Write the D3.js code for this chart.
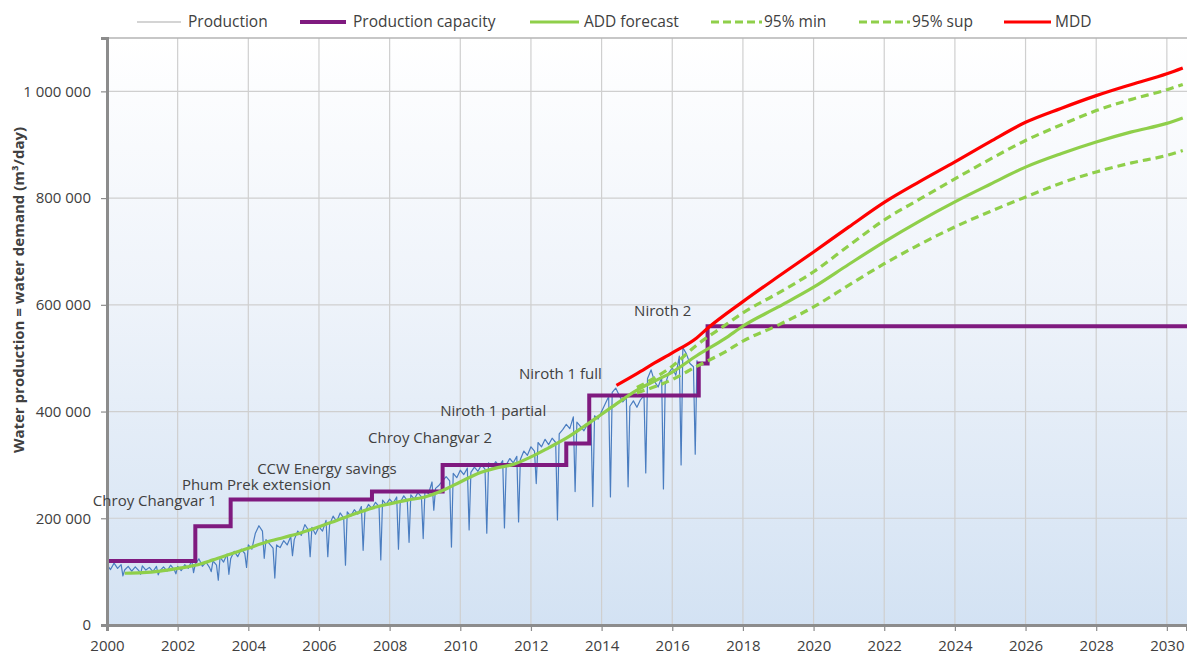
<!DOCTYPE html>
<html>
<head>
<meta charset="utf-8">
<script src="https://cdn.jsdelivr.net/npm/d3@7"></script>
<style>
  body { margin: 0; background: #ffffff; }
  svg text { font-family: "Open Sans", "Noto Sans", sans-serif; fill: #404040; }
</style>
</head>
<body>
<svg id="chart" width="1187" height="657"></svg>
<script>
// ---------- Data (years as decimal dates, values in m3/day) ----------

// Daily production, sampled along the record
const production = [
  [2000.0,112000],[2000.1,104000],[2000.2,116000],[2000.3,106000],[2000.4,113000],[2000.5,103000],
  [2000.6,110000],[2000.7,101000],[2000.8,109000],[2000.9,102000],[2001.0,111000],[2001.1,103000],
  [2001.2,108000],[2001.3,100000],[2001.4,110000],[2001.5,102000],[2001.6,109000],[2001.7,101000],
  [2001.8,112000],[2001.9,104000],[2002.0,110000],[2002.1,102000],[2002.2,113000],[2002.3,106000],
  [2002.4,121000],[2002.5,114000],[2002.6,124000],[2002.7,110000],[2002.8,118000],[2002.9,108000],
  [2003.0,120000],[2003.1,112000],[2003.2,127000],[2003.3,118000],[2003.4,133000],[2003.5,124000],
  [2003.6,138000],[2003.7,128000],[2003.8,142000],[2003.9,134000],[2004.0,150000],[2004.1,142000],
  [2004.2,172000],[2004.3,186000],[2004.4,176000],[2004.5,160000],[2004.6,152000],[2004.7,144000],
  [2004.8,150000],[2004.9,145000],[2005.0,158000],[2005.1,150000],[2005.2,166000],[2005.3,160000],
  [2005.4,176000],[2005.5,168000],[2005.6,188000],[2005.7,178000],[2005.8,183000],[2005.9,170000],
  [2006.0,184000],[2006.1,176000],[2006.2,196000],[2006.3,188000],[2006.4,204000],[2006.5,194000],
  [2006.6,210000],[2006.7,200000],[2006.8,212000],[2006.9,204000],[2007.0,216000],[2007.1,208000],
  [2007.2,222000],[2007.3,212000],[2007.4,226000],[2007.5,218000],[2007.6,230000],[2007.7,222000],
  [2007.8,234000],[2007.9,226000],[2008.0,236000],[2008.1,228000],[2008.2,240000],[2008.3,230000],
  [2008.4,242000],[2008.5,233000],[2008.6,244000],[2008.7,236000],[2008.8,248000],[2008.9,240000],
  [2009.0,252000],[2009.1,246000],[2009.2,268000],[2009.3,256000],[2009.4,262000],[2009.5,270000],
  [2009.6,278000],[2009.7,270000],[2009.8,284000],[2009.9,276000],[2010.0,290000],[2010.1,282000],
  [2010.2,294000],[2010.3,286000],[2010.4,296000],[2010.5,288000],[2010.6,300000],[2010.7,292000],
  [2010.8,304000],[2010.9,296000],[2011.0,306000],[2011.1,298000],[2011.2,308000],[2011.3,300000],
  [2011.4,312000],[2011.5,304000],[2011.6,316000],[2011.7,310000],[2011.8,326000],[2011.9,318000],
  [2012.0,334000],[2012.1,326000],[2012.2,342000],[2012.3,334000],[2012.4,348000],[2012.5,338000],
  [2012.6,350000],[2012.7,342000],[2012.8,358000],[2012.9,366000],[2013.0,376000],[2013.1,368000],
  [2013.2,390000],[2013.3,380000],[2013.4,372000],[2013.5,364000],[2013.6,376000],[2013.7,384000],
  [2013.8,392000],[2013.9,386000],[2014.0,400000],[2014.1,414000],[2014.2,428000],[2014.3,436000],
  [2014.4,444000],[2014.5,430000],[2014.6,418000],[2014.7,426000],[2014.8,410000],[2014.9,420000],
  [2015.0,408000],[2015.1,422000],[2015.2,430000],[2015.3,462000],[2015.4,478000],[2015.5,456000],
  [2015.6,446000],[2015.7,464000],[2015.8,450000],[2015.9,472000],[2016.0,482000],[2016.1,468000],
  [2016.2,504000],[2016.3,520000],[2016.4,508000],[2016.5,490000],[2016.6,484000],[2016.7,496000]
];

// Short outages: single-day drops in production
const productionDips = [
  [2000.45,92000],[2000.95,95000],[2001.45,94000],[2001.95,96000],[2002.45,98000],[2002.95,100000],
  [2003.15,84000],[2003.45,95000],[2003.95,108000],[2004.45,125000],[2004.75,88000],[2005.25,130000],
  [2005.75,128000],[2006.25,128000],[2006.75,112000],[2007.25,140000],[2007.75,122000],[2008.25,142000],
  [2008.55,155000],[2008.95,162000],[2009.25,215000],[2009.75,146000],[2010.25,178000],[2010.75,172000],
  [2011.25,182000],[2011.65,193000],[2012.15,265000],[2012.75,197000],[2013.25,250000],[2013.75,222000],
  [2014.25,240000],[2014.75,259000],[2015.25,285000],[2015.75,255000],[2016.25,300000],[2016.65,320000]
];

// Installed production capacity (value holds until the next date)
const capacity = [
  [2000.0,120000],[2002.5,185000],[2003.5,235000],[2007.5,250000],[2009.5,300000],
  [2013.0,340000],[2013.65,430000],[2016.75,490000],[2017.0,560000],[2030.6,560000]
];

// Average daily demand: fitted history and forecast
const addForecast = [
  [2000.5,97000],[2001.0,98000],[2001.5,101000],[2002.0,106000],[2002.5,112000],[2003.0,122000],
  [2003.5,133000],[2004.0,144000],[2004.5,155000],[2005.0,164000],[2005.5,173000],[2006.0,184000],
  [2006.5,196000],[2007.0,208000],[2007.5,219000],[2008.0,227000],[2008.5,234000],[2009.0,240000],
  [2009.5,252000],[2010.0,268000],[2010.5,284000],[2011.0,294000],[2011.5,301000],[2012.0,315000],
  [2012.5,332000],[2013.0,350000],[2013.5,372000],[2014.0,395000],[2014.5,418000],[2015.0,440000],
  [2015.5,457000],[2016.0,474000],[2016.7,505000],[2017.5,537000],[2018.0,560000],[2019.0,596000],
  [2020.0,633000],[2021.0,676000],[2022.0,718000],[2023.0,757000],[2024.0,793000],[2025.0,826000],
  [2026.0,858000],[2027.0,883000],[2028.0,905000],[2029.0,924000],[2030.0,940000],[2030.45,950000]
];

// 95 % confidence band of the forecast
const min95 = [
  [2015.0,435000],[2016.0,460000],[2016.7,485000],[2017.5,512000],[2018.0,532000],[2019.0,562000],
  [2020.0,596000],[2021.0,637000],[2022.0,677000],[2023.0,713000],[2024.0,746000],[2025.0,775000],
  [2026.0,802000],[2027.0,828000],[2028.0,849000],[2029.0,866000],[2030.0,880000],[2030.45,889000]
];
const sup95 = [
  [2015.0,445000],[2016.0,485000],[2016.7,525000],[2017.5,562000],[2018.0,585000],[2019.0,622000],
  [2020.0,662000],[2021.0,711000],[2022.0,759000],[2023.0,798000],[2024.0,836000],[2025.0,873000],
  [2026.0,908000],[2027.0,937000],[2028.0,964000],[2029.0,985000],[2030.0,1003000],[2030.45,1013000]
];

// Maximum daily demand
const mdd = [
  [2014.42,449000],[2015.0,471000],[2015.5,491000],[2016.0,510000],[2016.69,538000],[2017.0,556000],
  [2018.0,606000],[2019.0,653000],[2020.0,699000],[2021.0,746000],[2022.0,792000],[2023.0,831000],
  [2024.0,868000],[2025.0,906000],[2026.0,942000],[2027.0,968000],[2028.0,992000],[2029.0,1013000],
  [2030.0,1033000],[2030.45,1044000]
];

// Capacity projects, labelled where each one starts
const projectNames = ["Chroy Changvar 1","Phum Prek extension","CCW Energy savings","Chroy Changvar 2",
                      "Niroth 1 partial","Niroth 1 full","Niroth 2"];
const projectAnchors = [[1999.6,233000],[2002.12,262000],[2004.25,293000],[2007.39,350000],
                        [2009.43,401000],[2011.66,470000],[2014.92,588000]];

const xTicks = d3.range(2000, 2031, 2);
const yTicks = [0, 200000, 400000, 600000, 800000, 1000000];
const legendLabels = ["Production","Production capacity","ADD forecast","95% min","95% sup","MDD"];

// ---------- Layout ----------
const svg = d3.select("#chart");
const plot = { left: 107, top: 38, right: 1187, bottom: 625 };

const x = d3.scaleLinear().domain([2000, 2030.57]).range([plot.left, plot.right]);
const y = d3.scaleLinear().domain([0, 1100000]).range([plot.bottom, plot.top]);

const colors = {
  production: "#4a7dc0",
  capacity: "#7f1a7f",
  add: "#8fcf4a",
  band: "#8fcf4a",
  mdd: "#ff0000",
  grid: "#cfcfcf",
  axis: "#8c8c8c"
};

// plot background: white fading to pale blue
const defs = svg.append("defs");
const grad = defs.append("linearGradient").attr("id", "bg")
  .attr("x1", 0).attr("y1", 0).attr("x2", 0).attr("y2", 1);
grad.append("stop").attr("offset", "0%").attr("stop-color", "#ffffff");
grad.append("stop").attr("offset", "45%").attr("stop-color", "#eef3fa");
grad.append("stop").attr("offset", "100%").attr("stop-color", "#d3e2f3");

defs.append("clipPath").attr("id", "clip").append("rect")
  .attr("x", plot.left).attr("y", plot.top)
  .attr("width", plot.right - plot.left).attr("height", plot.bottom - plot.top);

svg.append("rect")
  .attr("x", plot.left).attr("y", plot.top)
  .attr("width", plot.right - plot.left).attr("height", plot.bottom - plot.top)
  .attr("fill", "url(#bg)");

// gridlines
const grid = svg.append("g");
grid.selectAll(".hg").data(yTicks.filter(d => d > 0)).join("line")
  .attr("x1", plot.left).attr("x2", plot.right)
  .attr("y1", d => y(d)).attr("y2", d => y(d))
  .attr("stroke", colors.grid).attr("stroke-width", 1.2);
grid.selectAll(".vg").data(xTicks.filter(d => d > 2000)).join("line")
  .attr("x1", d => x(d)).attr("x2", d => x(d))
  .attr("y1", plot.top).attr("y2", plot.bottom)
  .attr("stroke", colors.grid).attr("stroke-width", 1.2);
// top border of the plot area
svg.append("line")
  .attr("x1", plot.left).attr("x2", plot.right)
  .attr("y1", plot.top).attr("y2", plot.top)
  .attr("stroke", "#b5b5b5").attr("stroke-width", 1.5);

// ---------- Series ----------
const series = svg.append("g").attr("clip-path", "url(#clip)");
const line = d3.line().x(d => x(d[0])).y(d => y(d[1]));

const productionLine = production.concat(productionDips).sort((a, b) => a[0] - b[0]);
series.append("path")
  .datum(productionLine)
  .attr("d", line)
  .attr("fill", "none")
  .attr("stroke", colors.production)
  .attr("stroke-width", 1.2)
  .attr("stroke-linejoin", "round");

series.append("path")
  .datum(capacity)
  .attr("d", line.curve(d3.curveStepAfter))
  .attr("fill", "none")
  .attr("stroke", colors.capacity)
  .attr("stroke-width", 4);

const smooth = d3.line().x(d => x(d[0])).y(d => y(d[1])).curve(d3.curveMonotoneX);

[min95, sup95].forEach(s => {
  series.append("path")
    .datum(s)
    .attr("d", smooth)
    .attr("fill", "none")
    .attr("stroke", colors.band)
    .attr("stroke-width", 3.2)
    .attr("stroke-dasharray", "8,5");
});

series.append("path")
  .datum(addForecast)
  .attr("d", smooth)
  .attr("fill", "none")
  .attr("stroke", colors.add)
  .attr("stroke-width", 3.2);

series.append("path")
  .datum(mdd)
  .attr("d", smooth)
  .attr("fill", "none")
  .attr("stroke", colors.mdd)
  .attr("stroke-width", 3.2);

// ---------- Axes ----------
const spaced = d3.formatLocale({ decimal: ".", thousands: " ", grouping: [3], currency: ["", ""] }).format(",");

const yAxis = svg.append("g")
  .attr("transform", `translate(${plot.left},0)`)
  .call(d3.axisLeft(y).tickValues(yTicks).tickFormat(spaced).tickSize(6).tickPadding(10));
yAxis.select(".domain").attr("stroke", colors.axis).attr("stroke-width", 3);
yAxis.selectAll(".tick line").attr("stroke", colors.axis).attr("stroke-width", 1.2);
yAxis.selectAll("text").style("font-size", "15px").attr("fill", "#404040");

const xAxis = svg.append("g")
  .attr("transform", `translate(0,${plot.bottom})`)
  .call(d3.axisBottom(x).tickValues(xTicks).tickFormat(d3.format("d")).tickSize(6).tickPadding(9));
xAxis.select(".domain").attr("stroke", colors.axis).attr("stroke-width", 3);
xAxis.selectAll(".tick line").attr("stroke", colors.axis).attr("stroke-width", 1.2);
xAxis.selectAll("text")
  .style("font-family", "'Liberation Sans Narrow', 'Open Sans', sans-serif")
  .style("font-size", "15px").attr("fill", "#404040");

svg.append("text")
  .attr("transform", "translate(24,290) rotate(-90)")
  .attr("text-anchor", "middle")
  .style("font-size", "15px")
  .style("font-weight", "bold")
  .attr("fill", "#333333")
  .text("Water production = water demand (m³/day)");

// ---------- Project labels ----------
svg.append("g").selectAll("text")
  .data(projectNames.map((n, i) => ({ name: n, at: projectAnchors[i] })))
  .join("text")
  .attr("x", d => x(d.at[0]))
  .attr("y", d => y(d.at[1]))
  .attr("dy", "0.35em")
  .style("font-size", "15px")
  .attr("fill", "#3a3a3a")
  .text(d => d.name);

// ---------- Legend ----------
const legendStyle = [
  { stroke: "#a9a9a9", width: 1.2, dash: null, x0: 137, x1: 181, tx: 188 },
  { stroke: colors.capacity, width: 4, dash: null, x0: 300, x1: 346, tx: 353 },
  { stroke: colors.add, width: 3.2, dash: null, x0: 530, x1: 579, tx: 584 },
  { stroke: colors.band, width: 3.2, dash: "8,4", x0: 711, x1: 762, tx: 764 },
  { stroke: colors.band, width: 3.2, dash: "8,4", x0: 859, x1: 910, tx: 912 },
  { stroke: colors.mdd, width: 3.2, dash: null, x0: 1004, x1: 1051, tx: 1055 }
];
const legend = svg.append("g");
legendLabels.forEach((label, i) => {
  const s = legendStyle[i];
  legend.append("line")
    .attr("x1", s.x0).attr("x2", s.x1).attr("y1", 22).attr("y2", 22)
    .attr("stroke", s.stroke).attr("stroke-width", s.width)
    .attr("stroke-dasharray", s.dash);
  legend.append("text")
    .attr("x", s.tx).attr("y", 22).attr("dy", "0.35em")
    .style("font-size", "15.5px")
    .attr("fill", "#404040")
    .text(label);
});
</script>
</body>
</html>
